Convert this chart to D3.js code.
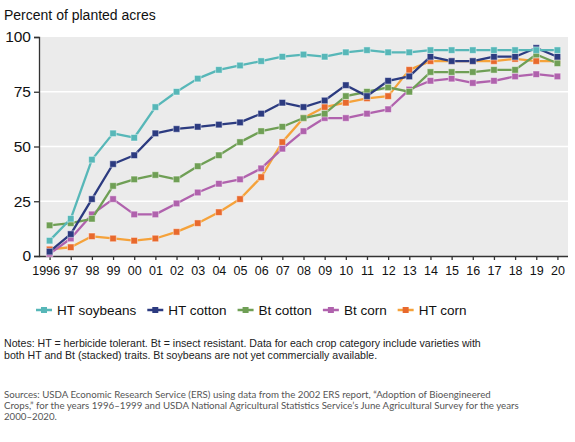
<!DOCTYPE html>
<html>
<head>
<meta charset="utf-8">
<title>Adoption of genetically engineered crops</title>
<style>
  body { margin: 0; background: #fff; }
</style>
</head>
<body>
<svg width="575" height="442" font-family="Liberation Sans, Arial, sans-serif"></svg>
<script src="https://cdn.jsdelivr.net/npm/d3@7"></script>
<script>
// years 1996-2020, tick labels as printed
const years = d3.range(1996, 2021);
const yearLabels = ["1996","97","98","99","00","01","02","03","04","05","06","07","08","09","10","11","12","13","14","15","16","17","18","19","20"];
const yTicks = [0, 25, 50, 75, 100];

// percent of planted acres
const htCorn     = [3, 4, 9, 8, 7, 8, 11, 15, 20, 26, 36, 52, 63, 68, 70, 72, 73, 85, 89, 89, 89, 89, 90, 89, 89];
const btCorn     = [1, 8, 19, 26, 19, 19, 24, 29, 33, 35, 40, 49, 57, 63, 63, 65, 67, 76, 80, 81, 79, 80, 82, 83, 82];
const btCotton   = [14, 15, 17, 32, 35, 37, 35, 41, 46, 52, 57, 59, 63, 65, 73, 75, 77, 75, 84, 84, 84, 85, 85, 92, 88];
const htCotton   = [2, 10, 26, 42, 46, 56, 58, 59, 60, 61, 65, 70, 68, 71, 78, 73, 80, 82, 91, 89, 89, 91, 91, 95, 91];
const htSoybeans = [7, 17, 44, 56, 54, 68, 75, 81, 85, 87, 89, 91, 92, 91, 93, 94, 93, 93, 94, 94, 94, 94, 94, 94, 94];

// drawing order bottom -> top
const series = [
  {name: "HT corn",     values: htCorn,     line: "#f5a23a", mark: "#e8692d"},
  {name: "Bt corn",     values: btCorn,     line: "#b062ad", mark: "#b062ad"},
  {name: "Bt cotton",   values: btCotton,   line: "#6f9f55", mark: "#6f9f55"},
  {name: "HT cotton",   values: htCotton,   line: "#2c3b80", mark: "#2c3b80"},
  {name: "HT soybeans", values: htSoybeans, line: "#57b7b8", mark: "#57b7b8"}
];
const legendOrder = ["HT soybeans", "HT cotton", "Bt cotton", "Bt corn", "HT corn"];

const svg = d3.select("svg");
const plot = {left: 39, right: 568, top: 37, bottom: 256};

const x = d3.scalePoint().domain(years).range([plot.left, plot.right]).padding(0.5);
const y = d3.scaleLinear().domain([0, 100]).range([plot.bottom, plot.top]);

// title
svg.append("text")
  .attr("x", 4).attr("y", 20)
  .attr("font-size", 14).attr("fill", "#111")
  .text("Percent of planted acres");

// background and grid
svg.append("rect")
  .attr("x", plot.left).attr("y", plot.top)
  .attr("width", plot.right - plot.left).attr("height", plot.bottom - plot.top)
  .attr("fill", "#ebebeb");

svg.append("g").selectAll("line")
  .data([25, 50, 75])
  .join("line")
  .attr("x1", plot.left).attr("x2", plot.right)
  .attr("y1", d => y(d)).attr("y2", d => y(d))
  .attr("stroke", "#fff").attr("stroke-width", 1.5);

// y axis
const yAxis = svg.append("g")
  .attr("transform", `translate(${plot.left},0)`)
  .call(d3.axisLeft(y).tickValues(yTicks).tickSize(5).tickPadding(3));
yAxis.attr("font-family", null).attr("font-size", 15.5);
yAxis.select(".domain").attr("stroke", "#333").attr("stroke-width", 1.3);
yAxis.selectAll(".tick line").attr("stroke", "#333").attr("stroke-width", 1.3);
yAxis.selectAll("text").attr("fill", "#111");

// x axis
const xAxis = svg.append("g")
  .attr("transform", `translate(0,${plot.bottom})`)
  .call(d3.axisBottom(x).tickFormat((d, i) => yearLabels[i]).tickSize(4).tickPadding(6).tickSizeOuter(0));
xAxis.attr("font-family", null).attr("font-size", 12.5);
xAxis.select(".domain").attr("stroke", "#333").attr("stroke-width", 1.3)
  .attr("d", `M${plot.left},0.5H${plot.right}`);
xAxis.selectAll(".tick line").attr("stroke", "#333").attr("stroke-width", 1.3);
xAxis.selectAll("text").attr("fill", "#111")
  .attr("dx", d => d === 1996 ? -4 : 0);

// lines and markers
const line = d3.line().x((d, i) => x(years[i])).y(d => y(d));
const ms = 6.5;

series.forEach(s => {
  const g = svg.append("g");
  g.append("path")
    .attr("d", line(s.values))
    .attr("fill", "none")
    .attr("stroke", s.line)
    .attr("stroke-width", 2.3)
    .attr("stroke-linejoin", "round");
  g.selectAll("rect")
    .data(s.values)
    .join("rect")
    .attr("x", (d, i) => x(years[i]) - ms / 2)
    .attr("y", d => y(d) - ms / 2)
    .attr("width", ms).attr("height", ms)
    .attr("fill", s.mark)
    .attr("stroke", "rgba(255,255,255,0.45)")
    .attr("stroke-width", 1);
});

// legend
const legend = svg.append("g").attr("transform", "translate(36,310)");
let lx = 0;
legendOrder.forEach(name => {
  const s = series.find(d => d.name === name);
  const item = legend.append("g").attr("transform", `translate(${lx},0)`);
  item.append("line")
    .attr("x1", 0).attr("x2", 16).attr("y1", 0).attr("y2", 0)
    .attr("stroke", s.line).attr("stroke-width", 2.5);
  item.append("rect")
    .attr("x", 8 - 3).attr("y", -3).attr("width", 6).attr("height", 6)
    .attr("fill", s.mark);
  const t = item.append("text")
    .attr("x", 21).attr("y", 5)
    .attr("font-size", 13.5).attr("fill", "#111")
    .text(name);
  lx += 21 + t.node().getComputedTextLength() + 11;
});

// notes
const notes = [
  "Notes: HT = herbicide tolerant. Bt = insect resistant. Data for each crop category include varieties with",
  "both HT and Bt (stacked) traits. Bt soybeans are not yet commercially available."
];
svg.append("g").selectAll("text")
  .data(notes)
  .join("text")
  .attr("x", 4).attr("y", (d, i) => 347 + i * 11.5)
  .attr("font-size", 10.6).attr("fill", "#222")
  .text(d => d);

const sources = [
  "Sources: USDA Economic Research Service (ERS) using data from the 2002 ERS report, \u201CAdoption of Bioengineered",
  "Crops,\u201D for the years 1996\u20131999 and USDA National Agricultural Statistics Service\u2019s June Agricultural Survey for the years",
  "2000\u20132020."
];
svg.append("g").selectAll("text")
  .data(sources)
  .join("text")
  .attr("x", 4).attr("y", (d, i) => 398 + i * 11)
  .attr("font-size", 9.7).attr("fill", "#555")
  .attr("font-family", "Lato, 'Open Sans', sans-serif")
  .text(d => d);
</script>
</body>
</html>
